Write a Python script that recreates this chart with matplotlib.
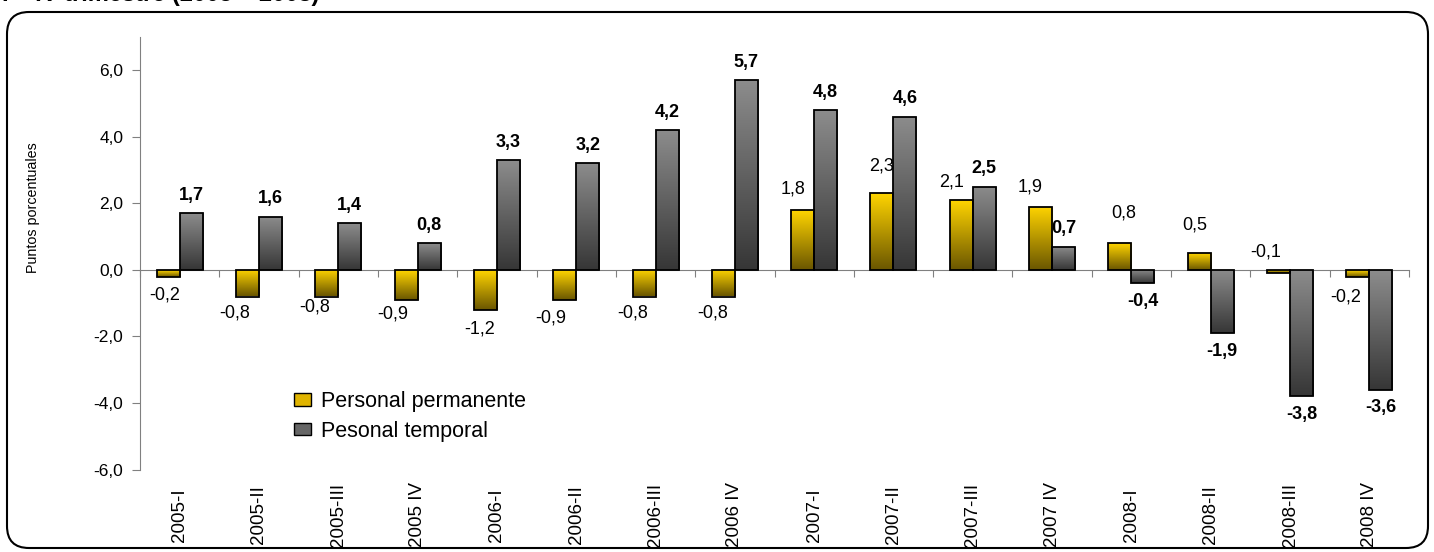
import numpy as np
import matplotlib
matplotlib.use('Agg')
import matplotlib.pyplot as plt
from matplotlib.colors import LinearSegmentedColormap
from matplotlib.patches import FancyBboxPatch, Patch
from matplotlib.ticker import FuncFormatter

plt.rcParams['font.family'] = ['Liberation Sans', 'DejaVu Sans']

quarters = ['2005-I', '2005-II', '2005-III', '2005 IV',
            '2006-I', '2006-II', '2006-III', '2006 IV',
            '2007-I', '2007-II', '2007-III', '2007 IV',
            '2008-I', '2008-II', '2008-III', '2008 IV']
permanente = [-0.2, -0.8, -0.8, -0.9, -1.2, -0.9, -0.8, -0.8,
              1.8, 2.3, 2.1, 1.9, 0.8, 0.5, -0.1, -0.2]
temporal = [1.7, 1.6, 1.4, 0.8, 3.3, 3.2, 4.2, 5.7,
            4.8, 4.6, 2.5, 0.7, -0.4, -1.9, -3.8, -3.6]
y_ticks = [-6, -4, -2, 0, 2, 4, 6]

# label nudges (pixels) for the yellow series, as placed in the original
perm_dx = [-3, -13, -12, -13, -6, -14, -11, -11, -10, 0, -10, -10, 4, -4, -13, -12]
perm_dy = [-18, -16, -11, -14, -19, -18, -17, -17, 21, 27, 18, 20, 30, 28, 21, -20]


def fmt(v):
    return f"{v:.1f}".replace('.', ',')


def gradient_fill(ax, bars, top, bottom):
    cmap = LinearSegmentedColormap.from_list('g', [bottom, top])
    grad = np.linspace(0, 1, 128).reshape(-1, 1)
    for b in bars:
        x0, y0, w, h = b.get_x(), b.get_y(), b.get_width(), b.get_height()
        lo, hi = min(y0, y0 + h), max(y0, y0 + h)
        im = ax.imshow(grad, cmap=cmap, origin='lower', aspect='auto',
                       extent=[x0, x0 + w, lo, hi], zorder=2.9,
                       interpolation='bilinear')
        im.set_clip_path(b)
        b.set_facecolor('none')


fig = plt.figure(figsize=(14.34, 5.52), dpi=100)

# background layer: rounded frame and the cut title
bg = fig.add_axes([0, 0, 1, 1], zorder=-1)
bg.set_xlim(0, 1434)
bg.set_ylim(552, 0)
bg.axis('off')
bg.add_patch(FancyBboxPatch((7, 12), 1421, 536,
                            boxstyle='round,pad=0,rounding_size=22',
                            fc='none', ec='black', lw=1.5))
bg.text(2, 1.5, 'I – IV trimestre (2005 – 2008)', fontsize=17,
        fontweight='bold', va='baseline', ha='left')

ax = fig.add_axes([140 / 1434, 1 - 469.5 / 552, 1269 / 1434, 432.5 / 552])
ax.set_facecolor('none')

x = np.arange(len(quarters))
w = 0.29
b1 = ax.bar(x - w, permanente, w, align='edge', edgecolor='black',
            linewidth=1.3, zorder=3, label='Personal permanente')
b2 = ax.bar(x, temporal, w, align='edge', edgecolor='black',
            linewidth=1.3, zorder=3, label='Pesonal temporal')
gradient_fill(ax, b1, '#FFD400', '#6A5600')
gradient_fill(ax, b2, '#8C8C8C', '#363636')

ax.set_xlim(-0.5, len(quarters) - 0.5)
ax.set_ylim(-6, 7)

# value labels
for i, v in enumerate(temporal):
    off = 18 if v >= 0 else -18
    ax.annotate(fmt(v), (x[i] + w / 2, v), xytext=(0, off),
                textcoords='offset pixels', ha='center', va='center',
                fontsize=13, fontweight='bold')
for i, v in enumerate(permanente):
    ax.annotate(fmt(v), (x[i] - w / 2, v), xytext=(perm_dx[i], perm_dy[i]),
                textcoords='offset pixels', ha='center', va='center',
                fontsize=13)

# axes styling
for s in ['top', 'right']:
    ax.spines[s].set_visible(False)
ax.spines['left'].set_color('#808080')
ax.spines['bottom'].set_color('#808080')
ax.spines['bottom'].set_position(('data', 0))
ax.set_xticks(np.arange(len(quarters) + 1) - 0.5)
ax.set_xticklabels([])
ax.tick_params(axis='x', direction='out', length=5, color='#808080')
ax.set_yticks(y_ticks)
ax.yaxis.set_major_formatter(FuncFormatter(lambda v, _: fmt(v)))
ax.tick_params(axis='y', direction='out', length=6, color='#808080',
               labelsize=12.5, pad=6)

for i, q in enumerate(quarters):
    ax.text(x[i], -0.105, q, transform=ax.get_xaxis_transform(),
            rotation=90, ha='center', va='center', fontsize=13.5)

ax.set_ylabel('Puntos porcentuales', fontsize=10.3)
ax.yaxis.set_label_coords(-0.0788, 0.605)

handles = [Patch(facecolor='#E0B400', edgecolor='black', lw=1),
           Patch(facecolor='#666666', edgecolor='black', lw=1)]
ax.legend(handles, ['Personal permanente', 'Pesonal temporal'],
          loc='upper left', bbox_to_anchor=(294 / 1434, 1 - 391 / 552),
          bbox_transform=fig.transFigure, frameon=False, fontsize=15.5,
          handlelength=0.8, handleheight=0.55, handletextpad=0.45,
          labelspacing=0.4, borderpad=0, borderaxespad=0)

fig.savefig('out.png', dpi=100)
